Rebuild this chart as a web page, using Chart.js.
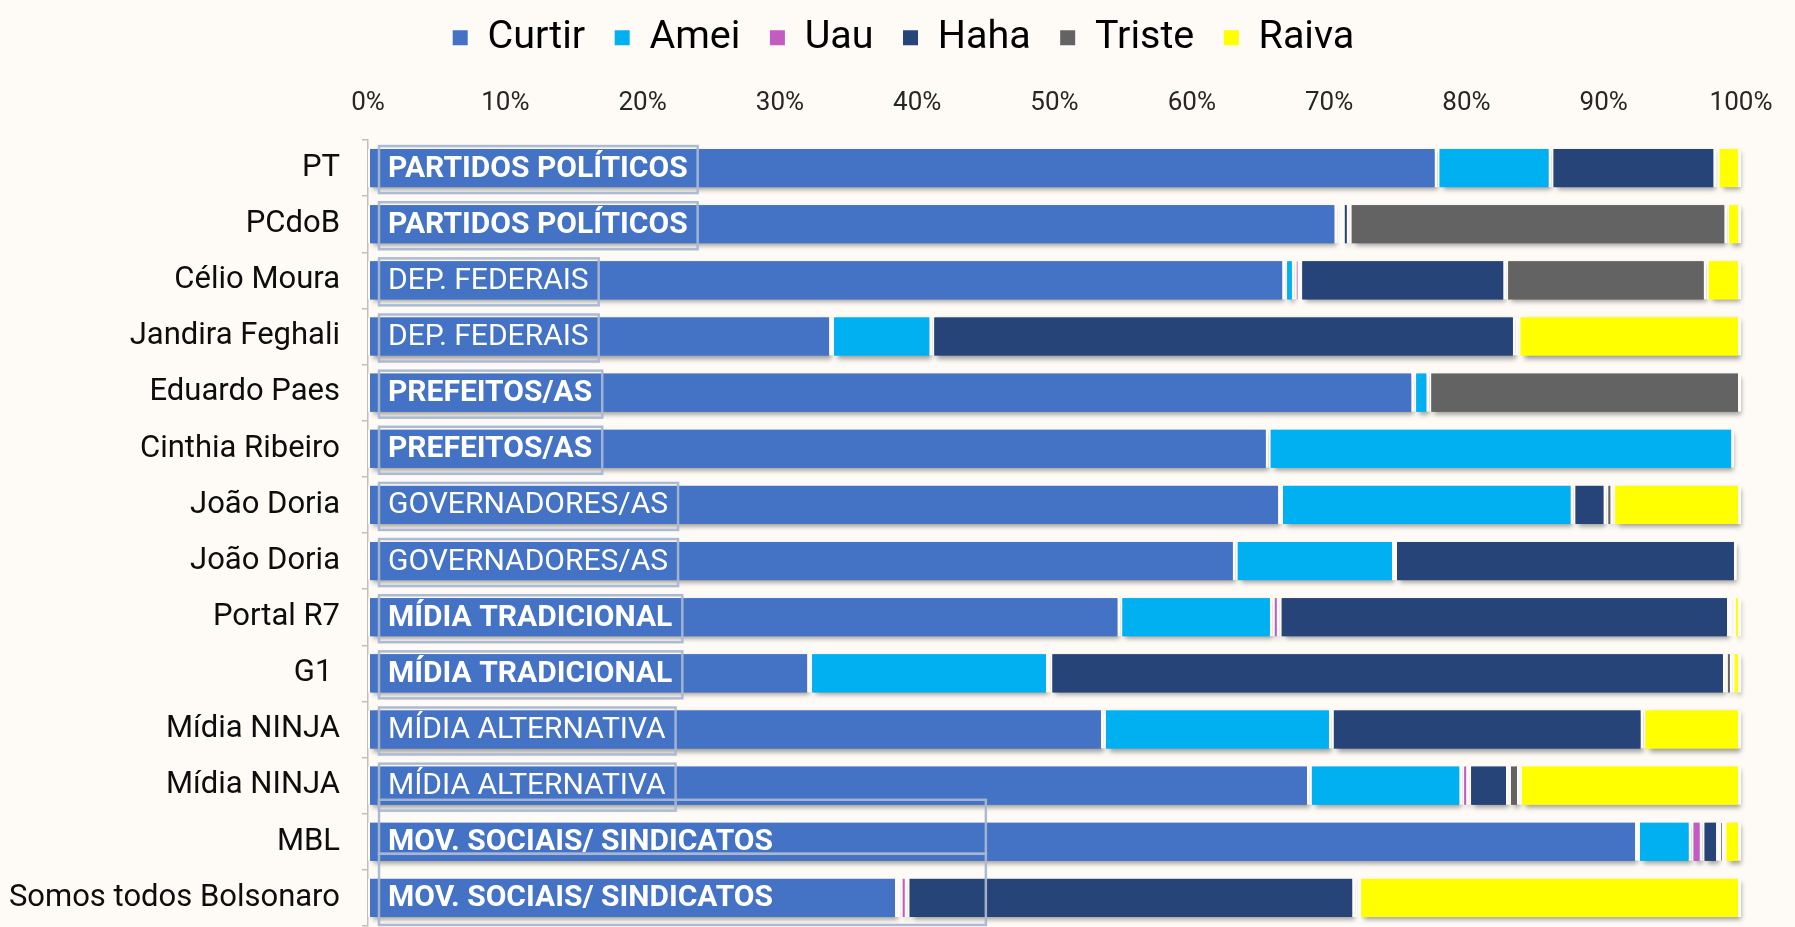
<!DOCTYPE html>
<html><head><meta charset="utf-8">
<script src="https://cdn.jsdelivr.net/npm/chart.js@4/dist/chart.umd.min.js"></script>
<style>html,body{margin:0;padding:0;background:#FEFBF6;}canvas{display:block;}</style>
</head><body>
<canvas id="c" width="1795" height="927"></canvas>
<script>
// ---- data ----
const categories = ['PT','PCdoB','Célio Moura','Jandira Feghali','Eduardo Paes','Cinthia Ribeiro','João Doria','João Doria','Portal R7','G1 ','Mídia NINJA','Mídia NINJA','MBL','Somos todos Bolsonaro'];
const groups = ['PARTIDOS POLÍTICOS','PARTIDOS POLÍTICOS','DEP. FEDERAIS','DEP. FEDERAIS','PREFEITOS/AS','PREFEITOS/AS','GOVERNADORES/AS','GOVERNADORES/AS','MÍDIA TRADICIONAL','MÍDIA TRADICIONAL','MÍDIA ALTERNATIVA','MÍDIA ALTERNATIVA','MOV. SOCIAIS/ SINDICATOS','MOV. SOCIAIS/ SINDICATOS'];
const seriesNames = ['Curtir','Amei','Uau','Haha','Triste','Raiva'];
const curtir = [77.9,70.6,66.8,33.8,76.2,65.6,66.5,63.2,54.8,32.2,53.6,68.6,92.5,38.6];
const amei   = [8.3,0.3,0.7,7.3,1.1,33.9,21.3,11.6,11.1,17.4,16.6,11.1,3.9,0.2];
const uau    = [0,0.1,0.4,0,0,0,0,0,0.5,0.1,0,0.5,0.8,0.5];
const haha   = [12.0,0.5,15.0,42.5,0,0,2.4,24.9,32.8,49.2,22.7,2.9,1.2,32.6];
const triste = [0.1,27.5,14.6,0.2,22.7,0,0.5,0,0.3,0.5,0,0.8,0.4,0.3];
const raiva  = [1.7,1.0,2.5,16.2,0,0,9.3,0,0.5,0.6,7.1,16.1,1.2,27.8];
const xTickStep = 10;

// ---- styles ----
const BG = '#FEFBF6';
const colors = ['#4472C4','#00B0F0','#C25BC2','#264478','#636363','#FFFF00'];
const seriesData = [curtir, amei, uau, haha, triste, raiva];
const boldGroups = new Set(['PARTIDOS POLÍTICOS','PREFEITOS/AS','MÍDIA TRADICIONAL','MOV. SOCIAIS/ SINDICATOS']);
const wideGroup = 'MOV. SOCIAIS/ SINDICATOS';
const wideGroupRight = 45; // box right edge, in axis units

const bgPlugin = {
  id: 'bg',
  beforeDraw(chart) {
    const c = chart.ctx; c.save(); c.fillStyle = BG; c.fillRect(0, 0, chart.width, chart.height); c.restore();
  }
};

const legendShift = {
  id: 'legendShift',
  afterLayout(chart) {
    const lg = chart.legend;
    if (lg) { lg.left += 33; lg.right += 33; }
  }
};

const shadowPlugin = {
  id: 'shadow',
  beforeDatasetsDraw(chart) {
    const ctx = chart.ctx;
    ctx.save();
    ctx.shadowColor = 'rgba(0,0,0,0.38)';
    ctx.shadowBlur = 5;
    ctx.shadowOffsetX = 3;
    ctx.shadowOffsetY = 3;
    chart.data.datasets.forEach((ds, di) => {
      const meta = chart.getDatasetMeta(di);
      meta.data.forEach((el, i) => {
        if (!ds.data[i]) return;
        const p = el.getProps(['x', 'y', 'base', 'height'], true);
        const l = Math.min(p.x, p.base) + 2, r = Math.max(p.x, p.base) - 3;
        if (r - l <= 0.5) return;
        ctx.fillStyle = ds.backgroundColor;
        ctx.fillRect(l, p.y - p.height / 2, r - l, p.height);
      });
    });
    ctx.restore();
  }
};

const tagPlugin = {
  id: 'tags',
  afterDatasetsDraw(chart) {
    const ctx = chart.ctx, xs = chart.scales.x, ys = chart.scales.y;
    const x0 = xs.getPixelForValue(0) + 11;
    ctx.save();
    ctx.textBaseline = 'middle';
    ctx.textAlign = 'left';
    groups.forEach((g, i) => {
      const cy = ys.getPixelForValue(i);
      ctx.font = (boldGroups.has(g) ? 'bold ' : '') + '30px Roboto';
      const w = ctx.measureText(g).width;
      ctx.fillStyle = '#FFFFFF';
      ctx.fillText(g, x0 + 9, cy + 1);
      ctx.strokeStyle = 'rgba(168,182,210,0.95)';
      ctx.lineWidth = 2.5;
      if (g === wideGroup) {
        const xr = xs.getPixelForValue(wideGroupRight);
        const prevSame = i > 0 && groups[i - 1] === g;
        let top, bot;
        if (prevSame) { top = ys.getPixelForValue(i - 1) + 12; bot = cy + 27; }
        else { top = cy - 42; bot = cy + 12; }
        ctx.strokeRect(x0, top, xr - x0, bot - top);
      } else {
        ctx.strokeRect(x0, cy - 22, w + 19, 47);
      }
    });
    ctx.restore();
  }
};

const datasets = seriesNames.map((name, k) => ({
  label: name,
  data: seriesData[k],
  backgroundColor: colors[k],
  borderColor: BG,
  borderWidth: {left: 2, right: 3, top: 0, bottom: 0},
  borderSkipped: false,
  barPercentage: 0.68,
  categoryPercentage: 1.0
}));

new Chart(document.getElementById('c'), {
  type: 'bar',
  data: { labels: categories, datasets },
  plugins: [bgPlugin, legendShift, shadowPlugin, tagPlugin],
  options: {
    indexAxis: 'y',
    responsive: false,
    animation: false,
    devicePixelRatio: 1,
    layout: { padding: { top: -11.5, left: 0, right: 54, bottom: 1 } },
    plugins: {
      tooltip: { enabled: false },
      legend: {
        position: 'top',
        labels: {
          boxWidth: 15, boxHeight: 15, padding: 29.5, color: '#000000',
          font: { size: 39.5, family: 'Roboto' },
          generateLabels(chart) {
            const items = Chart.defaults.plugins.legend.labels.generateLabels(chart);
            items.forEach(it => { it.lineWidth = 0; it.strokeStyle = 'rgba(0,0,0,0)'; });
            return items;
          }
        }
      }
    },
    scales: {
      x: {
        position: 'top', stacked: true, min: 0, max: 100,
        grid: { display: false, drawTicks: false },
        border: { display: false },
        ticks: { stepSize: xTickStep, padding: 21, color: '#262626', font: { size: 26, family: 'Roboto' }, callback: v => v + '%' },
        afterFit(scale) { scale.height = 72.5; scale.paddingLeft = 0; scale.paddingRight = 0; }
      },
      y: {
        stacked: true,
        grid: { drawOnChartArea: false, offset: true, drawTicks: true, tickLength: 6, color: '#BFBFBF', lineWidth: 1.5 },
        border: { display: true, color: '#BFBFBF', width: 1.5 },
        ticks: { padding: 22, color: '#0D0D0D', font: { size: 31, family: 'Roboto' }, autoSkip: false },
        afterFit(scale) { scale.width = 368; scale.paddingTop = 0; scale.paddingBottom = 0; }
      }
    }
  }
});
</script>
</body></html>
